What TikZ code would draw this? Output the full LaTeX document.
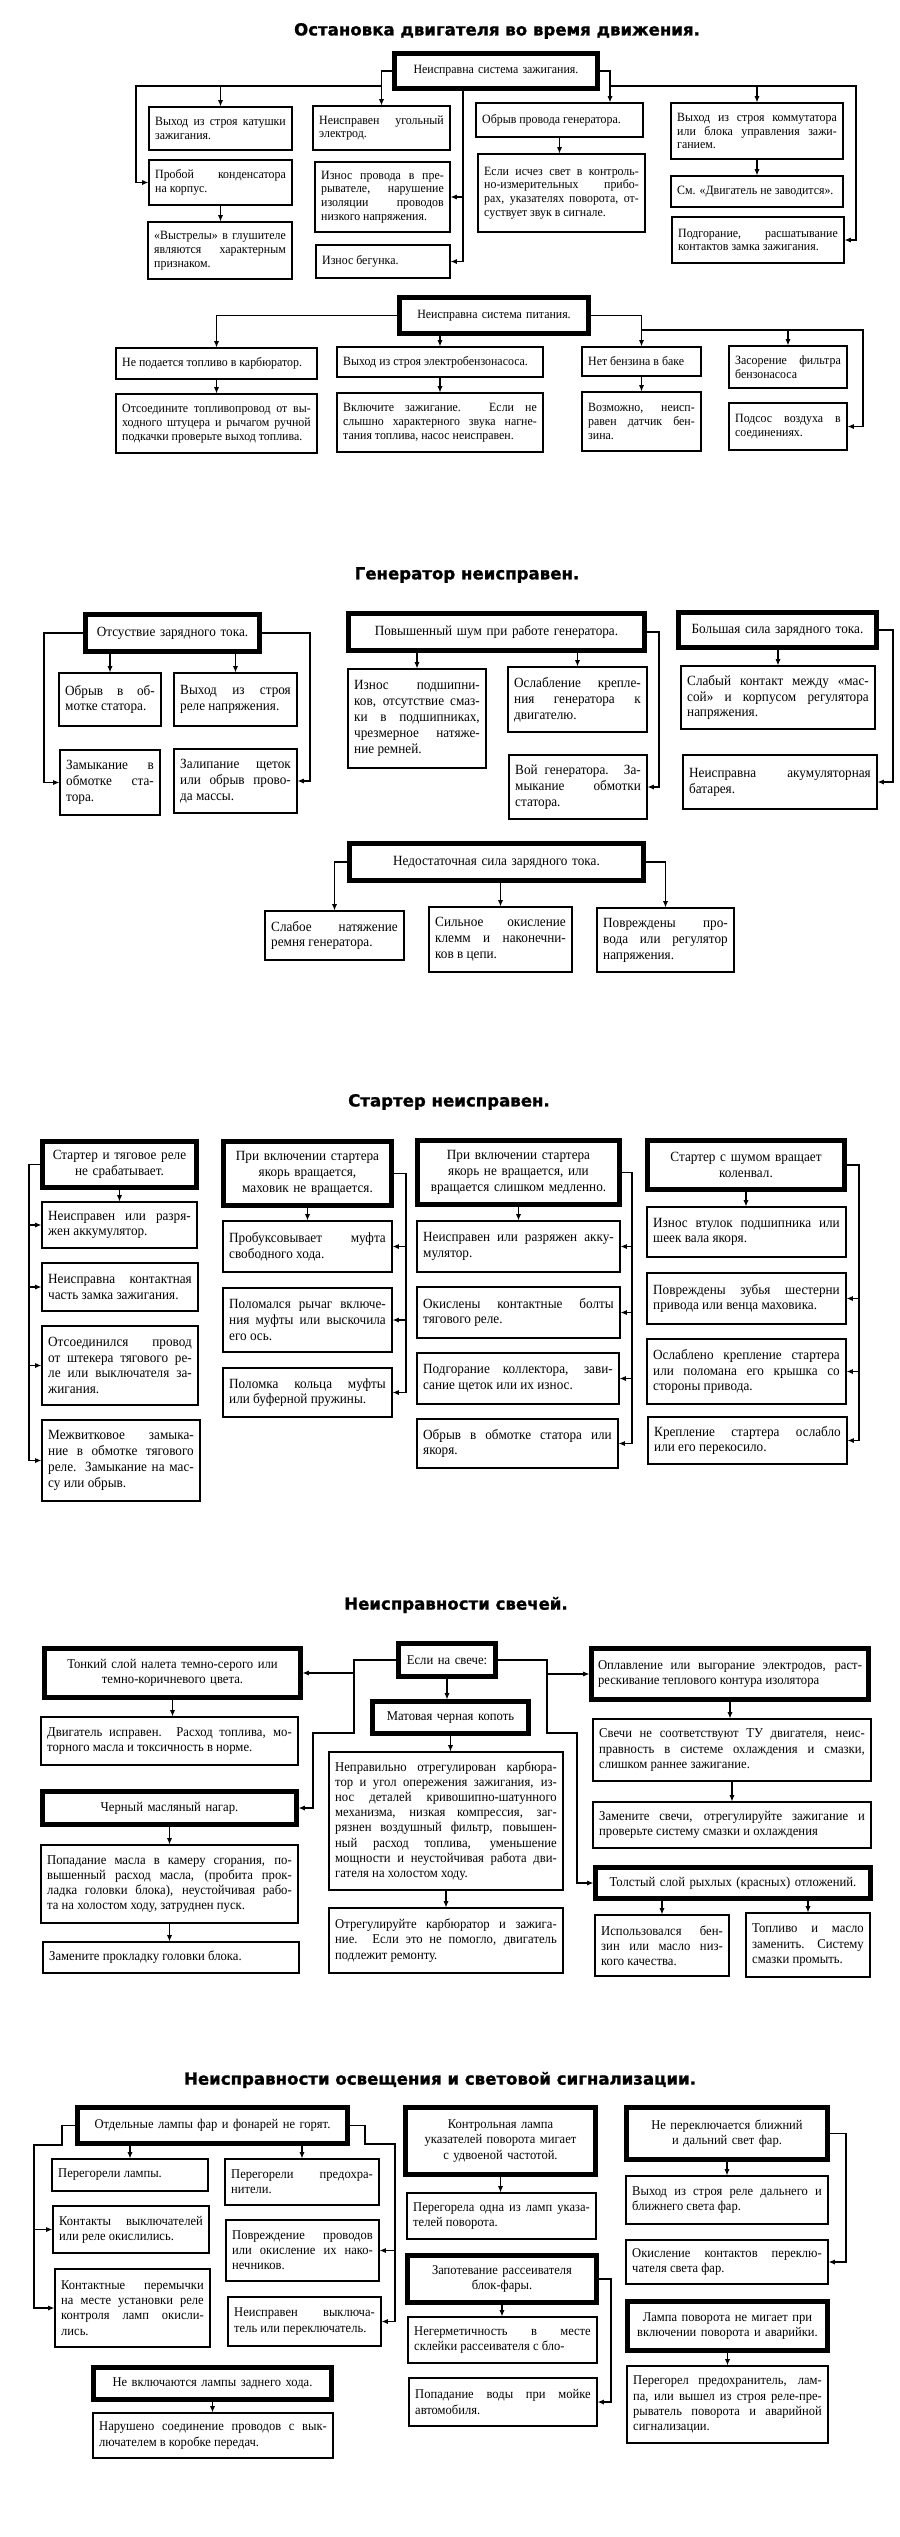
\documentclass[tikz,border=0pt]{standalone}
\usepackage{fontspec}
\setmainfont{Liberation Serif}[FakeStretch=0.94]
\newfontfamily\titlefont{DejaVu Sans}[BoldFeatures={FakeBold=1.2}]
\usetikzlibrary{arrows.meta}
\tolerance=10000
\hbadness=10000
\newcommand\Lbr{\linebreak}
\newcommand\curfont{\fontsize{9}{9.8}\selectfont}
\tikzset{
 bx/.style={draw, line width=0.8pt, inner xsep=1.5mm, inner ysep=0.6mm, align=justify, font=\curfont},
 hd/.style={draw, line width=2.2pt, inner xsep=1.7mm, inner ysep=1.2mm, align=center, font=\curfont},
 hdj/.style={hd, align=justify},
 hdin/.style={line width=0.7pt},
 arr/.style={line width=0.8pt, -{Latex[length=1.6mm,width=1.3mm]}},
 ttl/.style={font=\titlefont\bfseries\fontsize{11.8}{14}\selectfont}
}
\newcommand\mkcore[8]{%
 \pgfmathsetmacro\bxcx{(#4+#6)/2}%
 \pgfmathsetmacro\bxcy{(#5+#7)/2}%
 \pgfmathsetmacro\bxw{(#6-#4)*0.25}%
 \pgfmathsetmacro\bxh{(#7-#5)*0.25}%
 \pgfmathsetmacro\bxtw{(#6-#4)*0.25-#1}%
 \node[#2, minimum width=\bxw mm, minimum height=\bxh mm, text width=\bxtw mm] (#3) at (\bxcx,\bxcy) {#8};}
\newcommand\mkbox[7]{\mkcore{3.1}{#1}{#2}{#3}{#4}{#5}{#6}{#7}}
\newcommand\mkhead[7]{\mkcore{3.5}{#1}{#2}{#3}{#4}{#5}{#6}{#7}%
 \draw[hdin] ([shift={(1.1mm,-1.1mm)}]#2.north west) rectangle ([shift={(-1.1mm,1.1mm)}]#2.south east);}
\begin{document}
\begin{tikzpicture}[x=0.25mm, y=-0.25mm]
\useasboundingbox[fill=white] (0,0) rectangle (900,2537);

%================ Section 1 =================
\node[ttl] (t1) at (497,31) {Остановка двигателя во время движения.};
\mkhead{hd}{A}{394}{53}{598}{89}{Неисправна система зажигания.}
\mkbox{bx}{B1}{149}{107}{292}{150}{Выход из строя катушки\Lbr зажигания.}
\mkbox{bx}{B2}{149}{160}{292}{205}{Пробой конденсатора\Lbr на корпус.}
\mkbox{bx}{B3}{148}{222}{292}{279}{«Выстрелы» в глушителе\Lbr являются характерным\Lbr признаком.}
\mkbox{bx}{C1}{313}{106}{450}{150}{Неисправен угольный\Lbr электрод.}
\mkbox{bx}{C2}{315}{162}{450}{232}{Износ провода в пре-\Lbr рывателе, нарушение\Lbr изоляции проводов\Lbr низкого напряжения.}
\mkbox{bx}{C3}{316}{245}{450}{278}{Износ бегунка.}
\mkbox{bx}{D1}{476}{103}{643}{137}{Обрыв провода генератора.}
\mkbox{bx}{D2}{478}{154}{645}{232}{Если исчез свет в контроль-\Lbr но-измерительных прибо-\Lbr рах, указателях поворота, от-\Lbr суствует звук в сигнале.}
\mkbox{bx}{E1}{671}{103}{843}{159}{Выход из строя коммутатора\Lbr или блока управления зажи-\Lbr ганием.}
\mkbox{bx}{E2}{671}{176}{843}{207}{См. «Двигатель не заводится».}
\mkbox{bx}{E3}{672}{217}{844}{263}{Подгорание, расшатывание\Lbr контактов замка зажигания.}
\mkhead{hd}{F}{399}{297}{589}{334}{Неисправна система питания.}
\mkbox{bx}{G1}{116}{348}{317}{379}{Не подается топливо в карбюратор.}
\mkbox{bx}{G1b}{116}{394}{317}{453}{Отсоедините топливопровод от вы-\Lbr ходного штуцера и рычагом ручной\Lbr подкачки проверьте выход топлива.}
\mkbox{bx}{G2}{337}{347}{543}{377}{Выход из строя электробензонасоса.}
\mkbox{bx}{G2b}{337}{393}{543}{452}{Включите зажигание. Если не\Lbr слышно характерного звука нагне-\Lbr тания топлива, насос неисправен.}
\mkbox{bx}{H1}{582}{347}{701}{376}{Нет бензина в баке}
\mkbox{bx}{H2}{582}{392}{701}{451}{Возможно, неисп-\Lbr равен датчик бен-\Lbr зина.}
\mkbox{bx}{I1}{729}{346}{847}{388}{Засорение фильтра\Lbr бензонасоса}
\mkbox{bx}{I2}{729}{403}{847}{450}{Подсос воздуха в\Lbr соединениях.}

\draw[arr] (A.west) -| (C1.north);
\coordinate (jA1) at (C1.north |- 0,86);
\draw[arr] (jA1) -- (136,86) |- (B2.west);
\draw[arr] (B1.north |- jA1) -- (B1.north);
\draw[arr] (B2.south) -- (B2.south |- B3.north);
\draw[arr] (463,0 |- A.south) |- (C3.east);
\draw[arr] (463,0 |- C2.east) -- (C2.east);
\draw[arr] (A.east) -| (610,0 |- D1.north);
\coordinate (jA2) at (610,86);
\draw[arr] (jA2) -- (856,86) |- (E3.east);
\draw[arr] (E1.north |- jA2) -- (E1.north);
\draw[arr] (D1.south) -- (D1.south |- D2.north);
\draw[arr] (E1.south) -- (E1.south |- E2.north);
\draw[arr] (F.west) -| (G1.north);
\draw[arr] (G2.north |- F.south) -- (G2.north);
\draw[arr] (F.east) -| (H1.north);
\coordinate (jF) at (H1.north |- 0,330);
\draw[arr] (jF) -- (863,330) |- (I2.east);
\draw[arr] (I1.north |- jF) -- (I1.north);
\draw[arr] (G1.south) -- (G1.south |- G1b.north);
\draw[arr] (G2.south) -- (G2.south |- G2b.north);
\draw[arr] (H1.south) -- (H1.south |- H2.north);

%================ Section 2 =================
\renewcommand\curfont{\fontsize{10}{11.3}\selectfont}
\node[ttl] (t2) at (467,575) {Генератор неисправен.};
\mkhead{hd}{J}{85}{614}{260}{652}{Отсуствие зарядного тока.}
\mkbox{bx}{J1}{59}{673}{161}{726}{Обрыв в об-\Lbr мотке статора.}
\mkbox{bx}{J2}{174}{673}{297}{726}{Выход из строя\Lbr реле напряжения.}
\mkbox{bx}{J3}{60}{750}{160}{815}{Замыкание в\Lbr обмотке ста-\Lbr тора.}
\mkbox{bx}{J4}{174}{749}{297}{813}{Залипание щеток\Lbr или обрыв прово-\Lbr да массы.}
\mkhead{hd}{K}{348}{613}{645}{651}{Повышенный шум при работе генератора.}
\mkbox{bx}{K1}{348}{669}{486}{768}{Износ подшипни-\Lbr ков, отсутствие смаз-\Lbr ки в подшипниках,\Lbr чрезмерное натяже-\Lbr ние ремней.}
\mkbox{bx}{K2}{508}{667}{647}{732}{Ослабление крепле-\Lbr ния генератора к\Lbr двигателю.}
\mkbox{bx}{K3}{509}{755}{647}{819}{Вой генератора. За-\Lbr мыкание обмотки\Lbr статора.}
\mkhead{hd}{L}{678}{612}{877}{648}{Большая сила зарядного тока.}
\mkbox{bx}{L1}{681}{666}{875}{729}{Слабый контакт между «мас-\Lbr сой» и корпусом регулятора\Lbr напряжения.}
\mkbox{bx}{L2}{683}{755}{877}{809}{Неисправна акумуляторная\Lbr батарея.}
\mkhead{hd}{M}{349}{843}{644}{881}{Недостаточная сила зарядного тока.}
\mkbox{bx}{M1}{265}{911}{404}{960}{Слабое натяжение\Lbr ремня генератора.}
\mkbox{bx}{M2}{429}{907}{572}{972}{Сильное окисление\Lbr клемм и наконечни-\Lbr ков в цепи.}
\mkbox{bx}{M3}{597}{908}{734}{972}{Повреждены про-\Lbr вода или регулятор\Lbr напряжения.}

\draw[arr] (J.west) -- (44,0 |- J.west) |- (J3.west);
\draw[arr] (J.east) -- (310,0 |- J.east) |- (J4.east);
\draw[arr] (J1.north |- J.south) -- (J1.north);
\draw[arr] (J2.north |- J.south) -- (J2.north);
\draw[arr] (K1.north |- K.south) -- (K1.north);
\draw[arr] (K2.north |- K.south) -- (K2.north);
\draw[arr] (K.east) -- (659,0 |- K.east) |- (K3.east);
\draw[arr] (L1.north |- L.south) -- (L1.north);
\draw[arr] (L.east) -- (893,0 |- L.east) |- (L2.east);
\draw[arr] (M.west) -| (M1.north);
\draw[arr] (M2.north |- M.south) -- (M2.north);
\draw[arr] (M.east) -| (M3.north);

%================ Section 3 =================
\renewcommand\curfont{\fontsize{10}{11.2}\selectfont}
\node[ttl] (t3) at (449,1102) {Стартер неисправен.};
\mkhead{hd}{N}{42}{1141}{197}{1188}{Стартер и тяговое реле\\не срабатывает.}
\mkbox{bx}{N1}{42}{1202}{197}{1248}{Неисправен или разря-\Lbr жен аккумулятор.}
\mkbox{bx}{N2}{42}{1263}{198}{1311}{Неисправна контактная\Lbr часть замка зажигания.}
\mkbox{bx}{N3}{42}{1326}{198}{1405}{Отсоединился провод\Lbr от штекера тягового ре-\Lbr ле или выключателя за-\Lbr жигания.}
\mkbox{bx}{N4}{42}{1420}{200}{1501}{Межвитковое замыка-\Lbr ние в обмотке тягового\Lbr реле. Замыкание на мас-\Lbr су или обрыв.}
\mkhead{hd}{O}{223}{1141}{392}{1206}{При включении стартера\\якорь вращается,\\маховик не вращается.}
\mkbox{bx}{O1}{223}{1221}{392}{1272}{Пробуксовывает муфта\Lbr свободного хода.}
\mkbox{bx}{O2}{223}{1288}{392}{1352}{Поломался рычаг включе-\Lbr ния муфты или выскочила\Lbr его ось.}
\mkbox{bx}{O3}{223}{1368}{392}{1417}{Поломка кольца муфты\Lbr или буферной пружины.}
\mkhead{hd}{P}{417}{1140}{620}{1205}{При включении стартера\\якорь не вращается, или\\вращается слишком медленно.}
\mkbox{bx}{P1}{417}{1221}{620}{1272}{Неисправен или разряжен акку-\Lbr мулятор.}
\mkbox{bx}{P2}{417}{1287}{620}{1338}{Окислены контактные болты\Lbr тягового реле.}
\mkbox{bx}{P3}{417}{1353}{619}{1404}{Подгорание коллектора, зави-\Lbr сание щеток или их износ.}
\mkbox{bx}{P4}{417}{1419}{618}{1468}{Обрыв в обмотке статора или\Lbr якоря.}
\mkhead{hd}{Q}{647}{1140}{845}{1190}{Стартер с шумом вращает\\коленвал.}
\mkbox{bx}{Q1}{647}{1207}{846}{1257}{Износ втулок подшипника или\Lbr шеек вала якоря.}
\mkbox{bx}{Q2}{647}{1273}{846}{1324}{Повреждены зубья шестерни\Lbr привода или венца маховика.}
\mkbox{bx}{Q3}{647}{1339}{846}{1404}{Ослаблено крепление стартера\Lbr или поломана его крышка со\Lbr стороны привода.}
\mkbox{bx}{Q4}{648}{1417}{847}{1464}{Крепление стартера ослабло\Lbr или его перекосило.}

\draw[arr] (N.south) -- (N.south |- N1.north);
\draw[arr] (N.west) -- (29,0 |- N.west) |- (N4.west);
\foreach \n in {N1,N2,N3} \draw[arr] (29,0 |- \n.west) -- (\n.west);
\draw[arr] (O.south) -- (O.south |- O1.north);
\draw[arr] (O.east) -- (406,0 |- O.east) |- (O3.east);
\foreach \n in {O1,O2} \draw[arr] (406,0 |- \n.east) -- (\n.east);
\draw[arr] (P.south) -- (P.south |- P1.north);
\draw[arr] (P.east) -- (632,0 |- P.east) |- (P4.east);
\foreach \n in {P1,P2,P3} \draw[arr] (632,0 |- \n.east) -- (\n.east);
\draw[arr] (Q.south) -- (Q.south |- Q1.north);
\draw[arr] (Q.east) -- (859,0 |- Q.east) |- (Q4.east);
\foreach \n in {Q2,Q3} \draw[arr] (859,0 |- \n.east) -- (\n.east);

%================ Section 4 =================
\renewcommand\curfont{\fontsize{9.6}{10.8}\selectfont}
\node[ttl] (t4) at (456,1605) {Неисправности свечей.};
\mkhead{hd}{R}{398}{1643}{496}{1677}{Если на свече:}
\mkhead{hd}{S}{44}{1648}{301}{1698}{Тонкий слой налета темно-серого или\\темно-коричневого цвета.}
\mkbox{bx}{S1}{41}{1717}{298}{1765}{Двигатель исправен. Расход топлива, мо-\Lbr торного масла и токсичность в норме.}
\mkhead{hd}{U}{42}{1791}{297}{1825}{Черный масляный нагар.}
\mkbox{bx}{U1}{41}{1845}{298}{1923}{Попадание масла в камеру сгорания, по-\Lbr вышенный расход масла, (пробита прок-\Lbr ладка головки блока), неустойчивая рабо-\Lbr та на холостом ходу, затруднен пуск.}
\mkbox{bx}{U2}{43}{1942}{299}{1973}{Замените прокладку головки блока.}
\mkhead{hd}{T}{372}{1701}{529}{1734}{Матовая черная копоть}
\mkbox{bx}{T1}{329}{1752}{563}{1890}{Неправильно отрегулирован карбюра-\Lbr тор и угол опережения зажигания, из-\Lbr нос деталей кривошипно-шатунного\Lbr механизма, низкая компрессия, заг-\Lbr рязнен воздушный фильтр, повышен-\Lbr ный расход топлива, уменьшение\Lbr мощности и неустойчивая работа дви-\Lbr гателя на холостом ходу.}
\mkbox{bx}{T2}{329}{1908}{563}{1973}{Отрегулируйте карбюратор и зажига-\Lbr ние. Если это не помогло, двигатель\Lbr подлежит ремонту.}
\mkhead{hdj}{V}{591}{1648}{869}{1700}{Оплавление или выгорание электродов, раст-\Lbr рескивание теплового контура изолятора}
\mkbox{bx}{V1}{593}{1719}{871}{1781}{Свечи не соответствуют ТУ двигателя, неис-\Lbr правность в системе охлаждения и смазки,\Lbr слишком раннее зажигание.}
\mkbox{bx}{V2}{593}{1802}{871}{1848}{Замените свечи, отрегулируйте зажигание и\Lbr проверьте систему смазки и охлаждения}
\mkhead{hd}{W}{595}{1867}{871}{1899}{Толстый слой рыхлых (красных) отложений.}
\mkbox{bx}{W1}{595}{1915}{729}{1976}{Использовался бен-\Lbr зин или масло низ-\Lbr кого качества.}
\mkbox{bx}{W2}{746}{1913}{870}{1977}{Топливо и масло\Lbr заменить. Систему\Lbr смазки промыть.}

\draw[arr] (R.west) -- (354,0 |- R.west) |- (313,1733) |- (U.east);
\draw[arr] (354,0 |- S.east) -- (S.east);
\draw[arr] (R.south) -- (R.south |- T.north);
\draw[arr] (R.east) -- (547,0 |- R.east) |- (577,1733) |- (W.west);
\draw[arr] (547,0 |- V.west) -- (V.west);
\draw[arr] (S.south) -- (S.south |- S1.north);
\draw[arr] (U.south) -- (U.south |- U1.north);
\draw[arr] (U1.south) -- (U1.south |- U2.north);
\draw[arr] (T.south) -- (T.south |- T1.north);
\draw[arr] (T1.south) -- (T1.south |- T2.north);
\draw[arr] (V.south) -- (V.south |- V1.north);
\draw[arr] (V1.south) -- (V1.south |- V2.north);
\draw[arr] (W1.north |- W.south) -- (W1.north);
\draw[arr] (W2.north |- W.south) -- (W2.north);

%================ Section 5 =================
\renewcommand\curfont{\fontsize{9.5}{10.8}\selectfont}
\node[ttl] (t5) at (440,2080) {Неисправности освещения и световой сигнализации.};
\mkhead{hd}{X}{77}{2107}{348}{2144}{Отдельные лампы фар и фонарей не горят.}
\mkbox{bx}{X1}{52}{2159}{208}{2191}{Перегорели лампы.}
\mkbox{bx}{X2}{53}{2206}{209}{2253}{Контакты выключателей\Lbr или реле окислились.}
\mkbox{bx}{X3}{55}{2269}{210}{2347}{Контактные перемычки\Lbr на месте установки реле\Lbr контроля ламп окисли-\Lbr лись.}
\mkbox{bx}{X4}{225}{2159}{379}{2205}{Перегорели предохра-\Lbr нители.}
\mkbox{bx}{X5}{226}{2220}{379}{2281}{Повреждение проводов\Lbr или окисление их нако-\Lbr нечников.}
\mkbox{bx}{X6}{228}{2297}{381}{2346}{Неисправен выключа-\Lbr тель или переключатель.}
\mkhead{hd}{Y}{93}{2367}{332}{2400}{Не включаются лампы заднего хода.}
\mkbox{bx}{Y1}{93}{2413}{333}{2458}{Нарушено соединение проводов с вык-\Lbr лючателем в коробке передач.}
\mkhead{hd}{Z}{405}{2107}{596}{2175}{Контрольная лампа\\указателей поворота мигает\\с удвоеной частотой.}
\mkbox{bx}{Z1}{407}{2193}{596}{2239}{Перегорела одна из ламп указа-\Lbr телей поворота.}
\mkhead{hd}{Z2}{407}{2255}{597}{2303}{Запотевание рассеивателя\\блок-фары.}
\mkbox{bx}{Z3}{408}{2317}{597}{2363}{Негерметичность в месте\Lbr склейки рассеивателя с бло-}
\mkbox{bx}{Z4}{409}{2378}{597}{2426}{Попадание воды при мойке\Lbr автомобиля.}
\mkhead{hd}{AA}{626}{2107}{828}{2160}{Не переключается ближний\\и дальний свет фар.}
\mkbox{bx}{AA1}{626}{2176}{828}{2224}{Выход из строя реле дальнего и\Lbr ближнего света фар.}
\mkbox{bx}{AA2}{626}{2240}{828}{2284}{Окисление контактов переклю-\Lbr чателя света фар.}
\mkhead{hd}{AB}{627}{2301}{828}{2351}{Лампа поворота не мигает при\\включении поворота и аварийки.}
\mkbox{bx}{AB1}{627}{2366}{828}{2443}{Перегорел предохранитель, лам-\Lbr па, или вышел из строя реле-пре-\Lbr рыватель поворота и аварийной\Lbr сигнализации.}

\draw[arr] (X.west) -- (62,0 |- X.west) -- (62,2145) -- (34,2145) |- (X3.west);
\draw[arr] (34,0 |- X2.west) -- (X2.west);
\draw[arr] (X.east) -- (365,0 |- X.east) -- (365,2144) -- (395,2144) |- (X6.east);
\draw[arr] (395,0 |- X5.east) -- (X5.east);
\draw[arr] (X1.north |- X.south) -- (X1.north);
\draw[arr] (X4.north |- X.south) -- (X4.north);
\draw[arr] (Y.south) -- (Y.south |- Y1.north);
\draw[arr] (Z.south) -- (Z.south |- Z1.north);
\draw[arr] (Z2.south) -- (Z2.south |- Z3.north);
\draw[arr] (Z2.east) -- (611,0 |- Z2.east) |- (Z4.east);
\draw[arr] (AA.south) -- (AA.south |- AA1.north);
\draw[arr] (AA.east) -- (846,0 |- AA.east) |- (AA2.east);
\draw[arr] (AB.south) -- (AB.south |- AB1.north);
\end{tikzpicture}
\end{document}
